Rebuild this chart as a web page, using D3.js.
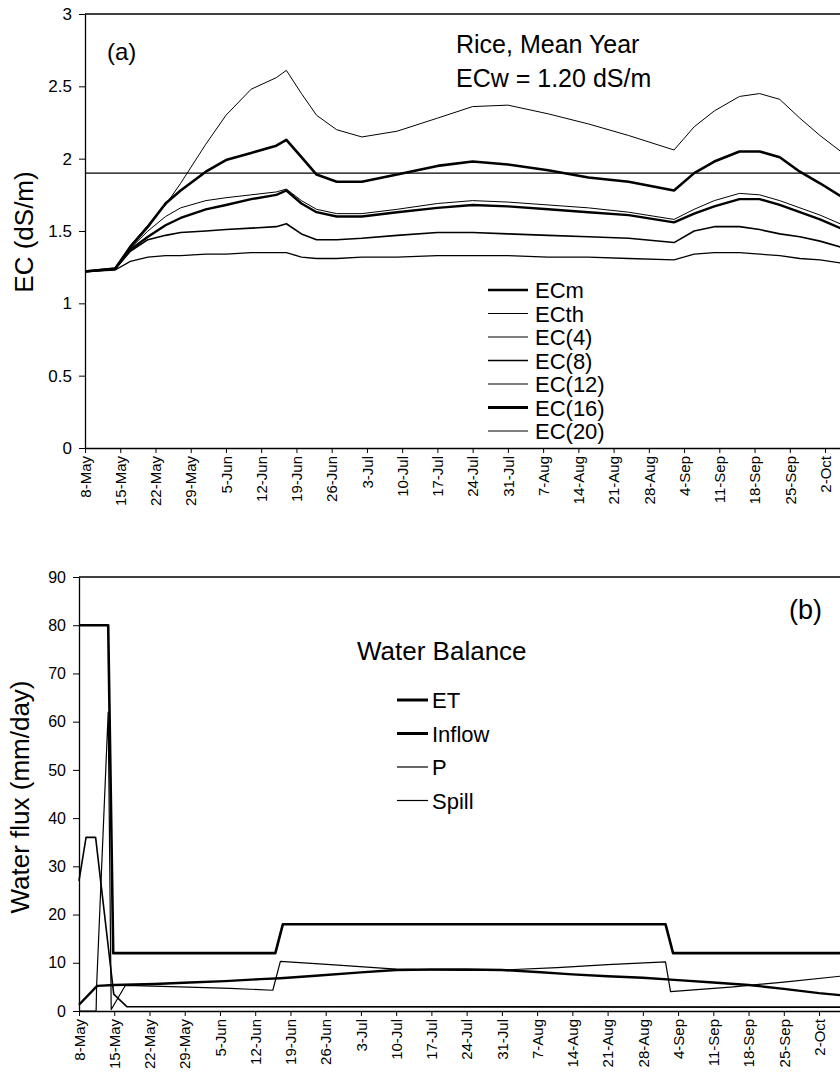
<!DOCTYPE html>
<html>
<head>
<meta charset="utf-8">
<script src="https://cdn.jsdelivr.net/npm/d3@7"></script>
<style>
  body { margin: 0; background: #fff; }
  text { font-family: "Liberation Sans", Arial, sans-serif; fill: #000; }
</style>
</head>
<body>
<script>
// weekly tick labels, starting 8-May (day 0)
var weekLabels = ["8-May","15-May","22-May","29-May","5-Jun","12-Jun","19-Jun","26-Jun",
  "3-Jul","10-Jul","17-Jul","24-Jul","31-Jul","7-Aug","14-Aug","21-Aug","28-Aug",
  "4-Sep","11-Sep","18-Sep","25-Sep","2-Oct"];

// (a) salinity, days since 8-May shared by every EC curve
var ecDays = [0, 6, 9, 12.5, 16, 19, 24, 28, 33, 38, 40, 43, 46, 50, 55, 62, 70, 77, 84,
  92, 100, 108, 117, 121, 125, 130, 134, 138, 142, 146, 152];
var ec20 = [1.22,1.24,1.40,1.54,1.68,1.83,2.10,2.30,2.48,2.56,2.61,2.45,2.30,2.20,2.15,
  2.19,2.28,2.36,2.37,2.31,2.24,2.16,2.06,2.22,2.33,2.43,2.45,2.41,2.28,2.16,2.00];
var ec16 = [1.22,1.24,1.39,1.53,1.69,1.78,1.91,1.99,2.04,2.09,2.13,2.01,1.89,1.84,1.84,
  1.89,1.95,1.98,1.96,1.92,1.87,1.84,1.78,1.90,1.98,2.05,2.05,2.01,1.91,1.83,1.70];
var ec12 = [1.22,1.24,1.38,1.50,1.60,1.66,1.71,1.73,1.75,1.77,1.79,1.71,1.65,1.62,1.62,
  1.65,1.69,1.71,1.70,1.68,1.66,1.63,1.58,1.65,1.71,1.76,1.75,1.71,1.66,1.61,1.52];
var ecm = [1.22,1.24,1.37,1.46,1.54,1.59,1.65,1.68,1.72,1.75,1.78,1.69,1.63,1.60,1.60,
  1.63,1.66,1.68,1.67,1.65,1.63,1.61,1.56,1.62,1.67,1.72,1.72,1.68,1.63,1.58,1.49];
var ec8 = [1.22,1.24,1.36,1.44,1.47,1.49,1.50,1.51,1.52,1.53,1.55,1.48,1.44,1.44,1.45,
  1.47,1.49,1.49,1.48,1.47,1.46,1.45,1.42,1.50,1.53,1.53,1.51,1.48,1.46,1.43,1.37];
var ec4 = [1.22,1.23,1.29,1.32,1.33,1.33,1.34,1.34,1.35,1.35,1.35,1.32,1.31,1.31,1.32,
  1.32,1.33,1.33,1.33,1.32,1.32,1.31,1.30,1.34,1.35,1.35,1.34,1.33,1.31,1.30,1.27];
var ecThreshold = 1.9;
var ecTicks = [0, 0.5, 1, 1.5, 2, 2.5, 3];
var ecLegend = ["ECm","ECth","EC(4)","EC(8)","EC(12)","EC(16)","EC(20)"];

// (b) water balance, each series has its own break points
var inflowDays = [0, 5.8, 6.8, 39, 40.5, 116.5, 118, 152];
var inflowValues = [80, 80, 12, 12, 18, 18, 12, 12];
var etDays = [0, 3.6, 7, 15, 22, 29, 36, 40, 47, 56, 63, 70, 77, 84, 91, 98, 105, 112,
  119, 126, 133, 140, 147, 152];
var etValues = [1.3, 5.2, 5.4, 5.6, 5.9, 6.2, 6.6, 6.8, 7.3, 8.0, 8.5, 8.6, 8.6, 8.5,
  8.1, 7.6, 7.2, 6.9, 6.4, 5.9, 5.4, 4.6, 3.7, 3.2];
var pDays = [0, 1.4, 3.3, 6.9, 9.5, 152];
var pValues = [27, 36, 36, 3.5, 0.9, 0.8];
var spillDays = [0, 3.4, 3.5, 5.8, 6.4, 9.2, 20, 30, 38.5, 40, 50, 63, 77, 84, 95, 105,
  116.5, 117.5, 130, 140, 152];
var spillValues = [0, 0, 5.2, 62, 0.3, 5.3, 5.0, 4.7, 4.3, 10.3, 9.6, 8.7, 8.4, 8.5, 9.0,
  9.6, 10.2, 4.0, 5.0, 6.0, 7.3];
var fluxTicks = [0, 10, 20, 30, 40, 50, 60, 70, 80, 90];
var fluxLegend = ["ET","Inflow","P","Spill"];

window.onload = function(){
  var svg = d3.select("body")
    .append("svg")
      .attr("width", 840)
      .attr("height", 1086);

  var weekDays = weekLabels.map(function(d, i){ return i * 7; });
  var pxPerDay = 35.24 / 7;

  // pairs days with values for d3.line
  function zipSeries(days, vals){
    return days.map(function(d, i){ return [d, vals[i]]; });
  }

  function drawAxes(g, x, y, yTicks, yFmt, xFont, yFont){
    var xAxis = g.append("g")
      .attr("transform", "translate(0," + y.range()[0] + ")")
      .call(d3.axisBottom(x)
        .tickValues(weekDays)
        .tickFormat(function(d, i){ return weekLabels[i]; })
        .tickSize(5)
        .tickSizeOuter(0));
    xAxis.selectAll("text")
      .attr("transform", "rotate(-90)")
      .attr("text-anchor", "end")
      .attr("x", -8)
      .attr("y", 0)
      .attr("dy", ".35em")
      .style("font-size", xFont + "px");

    g.append("g")
      .attr("transform", "translate(" + x.range()[0] + ",0)")
      .call(d3.axisLeft(y)
        .tickValues(yTicks)
        .tickFormat(yFmt)
        .tickSize(6)
        .tickPadding(7)
        .tickSizeOuter(0))
      .selectAll("text")
        .style("font-size", yFont + "px");

    g.selectAll(".domain").attr("stroke-width", 1.3);
    g.selectAll(".tick line").attr("stroke-width", 1);

    // frame line along the top
    g.append("line")
      .attr("x1", x.range()[0]).attr("x2", x.range()[1])
      .attr("y1", y.range()[1]).attr("y2", y.range()[1])
      .attr("stroke", "#000")
      .attr("stroke-width", 1.3);
  }

  // ---------- (a) EC ----------
  var xa = d3.scaleLinear().domain([0, 154]).range([85, 85 + 154 * pxPerDay]);
  var ya = d3.scaleLinear().domain([0, 3]).range([448, 14]);
  var ga = svg.append("g");
  drawAxes(ga, xa, ya, ecTicks, function(d){ return String(d); }, 15, 17);

  var lineA = d3.line()
    .x(function(d){ return xa(d[0]); })
    .y(function(d){ return ya(d[1]); });

  var ecSeries = [
    {name: "EC(20)", vals: ec20, w: 1},
    {name: "EC(16)", vals: ec16, w: 2.6},
    {name: "EC(12)", vals: ec12, w: 1},
    {name: "ECm", vals: ecm, w: 2.4},
    {name: "EC(8)", vals: ec8, w: 1.6},
    {name: "EC(4)", vals: ec4, w: 1.3}
  ];
  ga.selectAll(".ecLine")
    .data(ecSeries)
    .enter()
    .append("path")
    .attr("class", "ecLine")
    .attr("d", function(d){ return lineA(zipSeries(ecDays, d.vals)); })
    .attr("fill", "none")
    .attr("stroke", "#000")
    .attr("stroke-width", function(d){ return d.w; })
    .attr("stroke-linejoin", "round");

  // threshold ECth
  ga.append("line")
    .attr("x1", xa(0)).attr("x2", xa(154))
    .attr("y1", ya(ecThreshold)).attr("y2", ya(ecThreshold))
    .attr("stroke", "#000")
    .attr("stroke-width", 1.4);

  ga.append("text").attr("x", 107).attr("y", 60)
    .style("font-size", "24px").text("(a)");
  ga.append("text").attr("x", 456).attr("y", 53)
    .style("font-size", "25px").text("Rice, Mean Year");
  ga.append("text").attr("x", 456).attr("y", 87)
    .style("font-size", "25px").text("ECw = 1.20 dS/m");
  ga.append("text")
    .attr("transform", "translate(33,232) rotate(-90)")
    .attr("text-anchor", "middle")
    .style("font-size", "26px")
    .text("EC (dS/m)");

  var ecLegendW = {"ECm": 2.6, "ECth": 1.2, "EC(4)": 1.2, "EC(8)": 1.6,
    "EC(12)": 1.2, "EC(16)": 3, "EC(20)": 1};
  var legA = ga.selectAll(".legA")
    .data(ecLegend)
    .enter()
    .append("g")
    .attr("class", "legA")
    .attr("transform", function(d, i){ return "translate(0," + (290 + i * 23.5) + ")"; });
  legA.append("line")
    .attr("x1", 488).attr("x2", 528)
    .attr("stroke", "#000")
    .attr("stroke-width", function(d){ return ecLegendW[d]; });
  legA.append("text")
    .attr("x", 535).attr("y", 8)
    .style("font-size", "22px")
    .text(function(d){ return d; });

  // ---------- (b) water balance ----------
  var xb = d3.scaleLinear().domain([0, 154]).range([79, 79 + 154 * pxPerDay]);
  var yb = d3.scaleLinear().domain([0, 90]).range([1011, 577]);
  var gb = svg.append("g");
  drawAxes(gb, xb, yb, fluxTicks, function(d){ return String(d); }, 15, 16);

  var lineB = d3.line()
    .x(function(d){ return xb(d[0]); })
    .y(function(d){ return yb(d[1]); });

  var fluxSeries = [
    {name: "P", pts: zipSeries(pDays, pValues), w: 1.6},
    {name: "Spill", pts: zipSeries(spillDays, spillValues), w: 1.2},
    {name: "ET", pts: zipSeries(etDays, etValues), w: 2.4},
    {name: "Inflow", pts: zipSeries(inflowDays, inflowValues), w: 2.6}
  ];
  gb.selectAll(".fluxLine")
    .data(fluxSeries)
    .enter()
    .append("path")
    .attr("class", "fluxLine")
    .attr("d", function(d){ return lineB(d.pts); })
    .attr("fill", "none")
    .attr("stroke", "#000")
    .attr("stroke-width", function(d){ return d.w; })
    .attr("stroke-linejoin", "round");

  gb.append("text").attr("x", 789).attr("y", 619)
    .style("font-size", "27px").text("(b)");
  gb.append("text").attr("x", 357).attr("y", 660)
    .style("font-size", "26px").text("Water Balance");
  gb.append("text")
    .attr("transform", "translate(29,797) rotate(-90)")
    .attr("text-anchor", "middle")
    .style("font-size", "26px")
    .text("Water flux (mm/day)");

  var fluxLegendW = {"ET": 3, "Inflow": 3, "P": 1.2, "Spill": 1.2};
  var legB = gb.selectAll(".legB")
    .data(fluxLegend)
    .enter()
    .append("g")
    .attr("class", "legB")
    .attr("transform", function(d, i){ return "translate(0," + (700 + i * 33.5) + ")"; });
  legB.append("line")
    .attr("x1", 397).attr("x2", 428)
    .attr("stroke", "#000")
    .attr("stroke-width", function(d){ return fluxLegendW[d]; });
  legB.append("text")
    .attr("x", 432).attr("y", 8)
    .style("font-size", "22px")
    .text(function(d){ return d; });
};
</script>
</body>
</html>
